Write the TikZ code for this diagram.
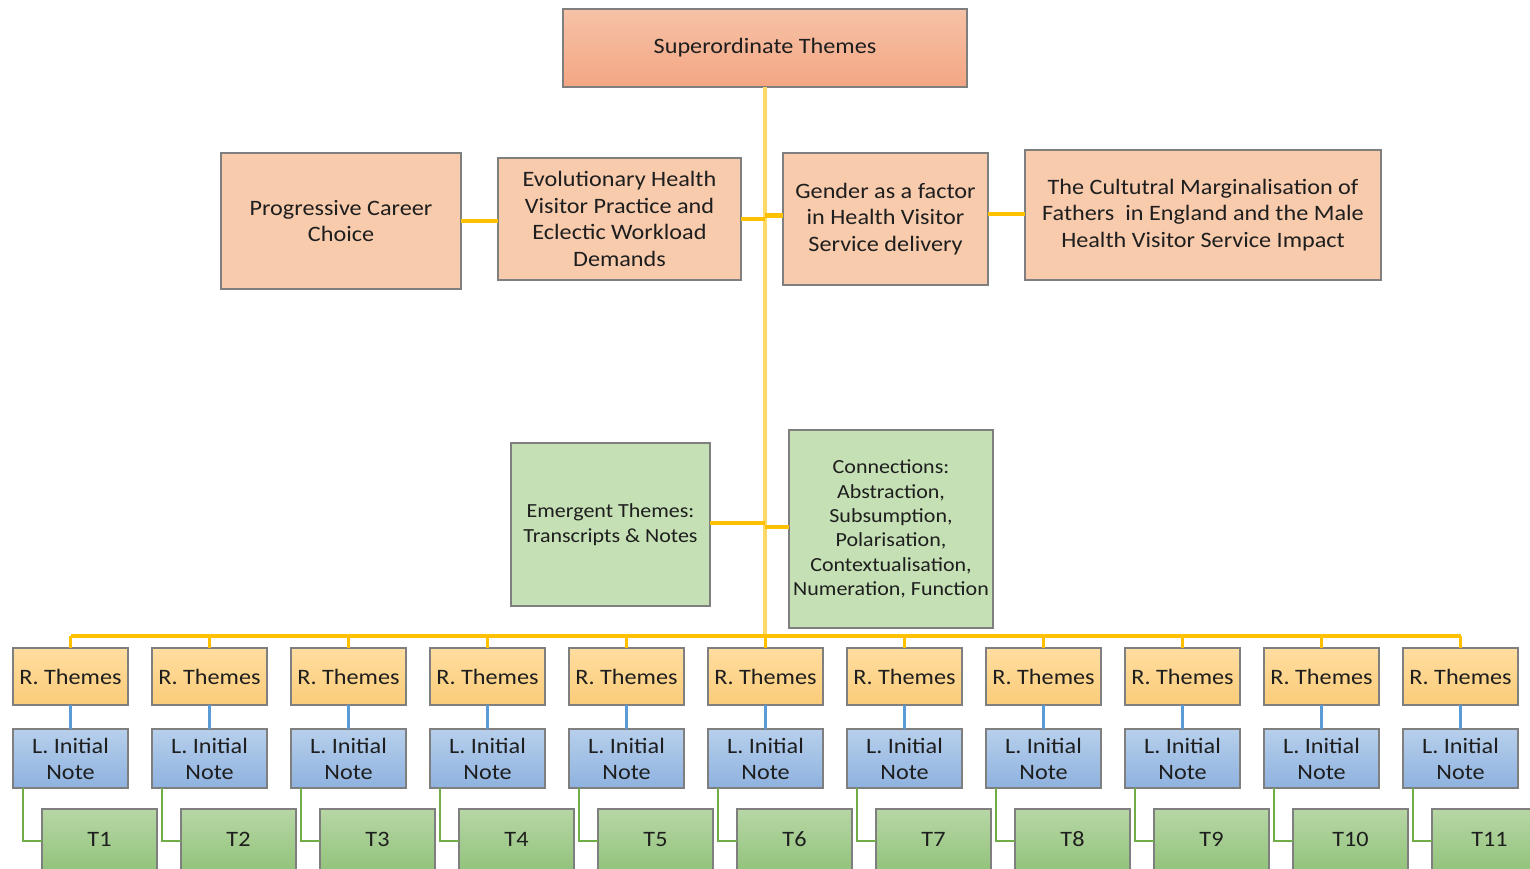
\documentclass[tikz,border=0pt]{standalone}
\usepackage{fontspec}
\setmainfont{Carlito}[FakeStretch=1.1]
\definecolor{peach}{HTML}{F8CBAD}
\definecolor{supT}{HTML}{F6C2A7}
\definecolor{supB}{HTML}{F4A683}
\definecolor{rT}{HTML}{FFDDA0}
\definecolor{rB}{HTML}{FBCC79}
\definecolor{lT}{HTML}{B7CFEC}
\definecolor{lB}{HTML}{8EB2DF}
\definecolor{tT}{HTML}{B7D7A5}
\definecolor{tB}{HTML}{91C27A}
\definecolor{mint}{HTML}{C5E0B4}
\definecolor{edge}{HTML}{7F7F7F}
\definecolor{trunk}{HTML}{FFD966}
\definecolor{gold}{HTML}{FFC000}
\definecolor{lblue}{HTML}{5B9BD5}
\definecolor{lgreen}{HTML}{70AD47}
\definecolor{ink}{HTML}{1E1E1E}
\newcommand\bx[7]{\node[#6, minimum width={#4-#2}, minimum height={#5-#3}] (#1) at ({(#2+#4)/2},{(#3+#5)/2}) {#7};}
\tikzset{
  box/.style={draw=edge, line width=1.1pt, inner sep=0pt, outer sep=0pt, align=center, text=ink, font=\fontsize{22}{26.7}\selectfont},
  supbox/.style={box, top color=supT, bottom color=supB},
  peachbox/.style={box, fill=peach},
  mintbox/.style={box, fill=mint, font=\fontsize{20}{24.4}\selectfont},
  rbox/.style={box, top color=rT, bottom color=rB},
  lbox/.style={box, top color=lT, bottom color=lB, font=\fontsize{22}{26}\selectfont},
  tbox/.style={box, top color=tT, bottom color=tB, text height=15pt, text depth=4pt},
  yline/.style={draw=gold, line width=3.2pt},
  tline/.style={draw=trunk, line width=3.8pt},
  bline/.style={draw=lblue, line width=2.8pt},
  gline/.style={draw=lgreen, line width=2.8pt},
}
\begin{document}
\begin{tikzpicture}[x=1pt,y=-1pt]
\useasboundingbox (0,0) rectangle (1530,869);
\clip (0,0) rectangle (1530,869);
\fill[white] (0,0) rectangle (1530,869);
\coordinate (bus) at (765,636);
% trunk
\bx{sup}{563}{9}{967}{87}{supbox}{Superordinate Themes}
\draw[tline] (sup.south) -- (sup.south |- bus);
% top themes
\bx{prog}{221}{153}{461}{289}{peachbox}{Progressive Career\\Choice}
\bx{evo}{498}{158}{741}{280}{peachbox}{Evolutionary Health\\Visitor Practice and\\Eclectic Workload\\Demands}
\bx{gen}{783}{153}{988}{285}{peachbox}{Gender as a factor\\in Health Visitor\\Service delivery}
\bx{cul}{1025}{150}{1381}{280}{peachbox}{The Cultutral Marginalisation of\\Fathers\ \ in England and the Male\\Health Visitor Service Impact}
\draw[yline] (prog.east) -- (prog.east -| evo.west);
\draw[yline] (evo.east) -- (evo.east -| sup.south);
\draw[yline, line width=4.5pt] ([yshift=3.5pt]gen.west) -- ([yshift=3.5pt]gen.west -| sup.south);
\draw[yline] ([yshift=5pt]gen.east) -- ([yshift=5pt]gen.east -| cul.west);
% emergent
\bx{em}{511}{443}{710}{606}{mintbox}{Emergent Themes:\\Transcripts \& Notes}
\bx{con}{789}{430}{993}{628}{mintbox}{Connections:\\Abstraction,\\Subsumption,\\Polarisation,\\Contextualisation,\\Numeration, Function}
\draw[yline] ([yshift=1.5pt]em.east) -- ([yshift=1.5pt]em.east -| sup.south);
\draw[yline] ([yshift=2pt]con.west) -- ([yshift=2pt]con.west -| sup.south);
% columns
\foreach \i in {1,...,11}{
  \pgfmathsetmacro\cx{70.5+139*(\i-1)}
  \pgfmathsetmacro\tx{99.5+139*(\i-1)}
  \node[rbox, minimum width=115, minimum height=57] (r\i) at (\cx,676.5) {R. Themes};
  \node[lbox, minimum width=115, minimum height=59] (l\i) at (\cx,758.5) {L. Initial\\Note};
  \node[tbox, minimum width=115, minimum height=64] (t\i) at (\tx,841) {T\i};
  \draw[bline] (r\i.south) -- (l\i.north);
  \draw[gline] ([xshift=10pt]l\i.south west) |- (t\i.west);
  \draw[yline] (r\i.north) -- (r\i.north |- bus);
}
\draw[yline] (r1.north |- bus) -- (r11.north |- bus);
\end{tikzpicture}
\end{document}
